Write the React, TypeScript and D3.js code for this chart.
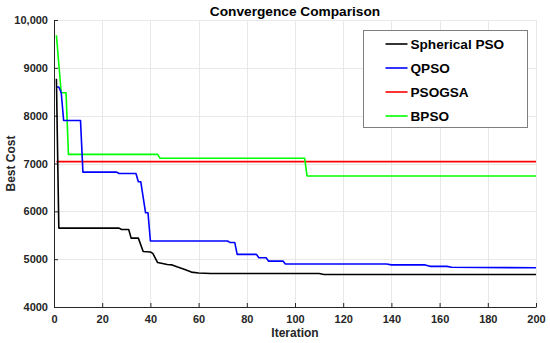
import React, { useEffect, useRef } from "react";
import * as d3 from "d3";

// Convergence histories (iteration, best cost)
const sphericalIter = [1, 2, 27, 28, 31, 32, 35, 37, 40, 41, 43, 47, 49, 51, 54, 57, 60, 65, 110, 112, 200];
const sphericalCost = [8770, 5650, 5650, 5620, 5620, 5440, 5440, 5160, 5150, 5120, 4930, 4890, 4880, 4840, 4790, 4730, 4710, 4700, 4700, 4680, 4680];

const qpsoIter = [1, 2, 3, 4, 11, 12, 26, 27, 34, 35, 36, 38, 39, 40, 72, 73, 75, 76, 84, 85, 88, 89, 95, 96, 138, 140, 154, 156, 163, 165, 200];
const qpsoCost = [8600, 8600, 8480, 7900, 7900, 6820, 6820, 6790, 6790, 6620, 6620, 5970, 5970, 5380, 5380, 5350, 5350, 5100, 5100, 5030, 5030, 4960, 4960, 4900, 4900, 4880, 4880, 4850, 4850, 4830, 4820];

const psogsaIter = [1, 200];
const psogsaCost = [7040, 7040];

const bpsoIter = [1, 3, 5, 6, 43, 44, 104, 105, 200];
const bpsoCost = [9680, 8480, 8480, 7190, 7190, 7110, 7110, 6740, 6740];

const seriesNames = ["Spherical PSO", "QPSO", "PSOGSA", "BPSO"];
const seriesColors = ["#000000", "#0000ff", "#ff0000", "#00ff00"];

const xTicks = [0, 20, 40, 60, 80, 100, 120, 140, 160, 180, 200];
const yTicks = [4000, 5000, 6000, 7000, 8000, 9000, 10000];

export default function App() {
  const svgRef = useRef<SVGSVGElement>(null);

  useEffect(() => {
    const svg = d3.select(svgRef.current);
    svg.selectAll("*").remove();

    const width = 550;
    const height = 343;
    const margin = { top: 20, right: 14, bottom: 36, left: 54 };
    const font = "'Liberation Sans', Arial, sans-serif";

    const x = d3.scaleLinear().domain([0, 200]).range([margin.left, width - margin.right]);
    const y = d3.scaleLinear().domain([4000, 10000]).range([height - margin.bottom, margin.top]);

    svg.attr("width", width).attr("height", height);
    svg.append("rect").attr("width", width).attr("height", height).attr("fill", "#ffffff");

    // grid
    const grid = svg.append("g").attr("stroke", "#e8e8e8").attr("stroke-width", 1);
    grid.selectAll(".gx")
      .data(xTicks.slice(1))
      .enter()
      .append("line")
      .attr("x1", (d) => Math.round(x(d)) + 0.5)
      .attr("x2", (d) => Math.round(x(d)) + 0.5)
      .attr("y1", y(10000))
      .attr("y2", y(4000));
    grid.selectAll(".gy")
      .data(yTicks.slice(1))
      .enter()
      .append("line")
      .attr("x1", x(0))
      .attr("x2", x(200))
      .attr("y1", (d) => Math.round(y(d)) + 0.5)
      .attr("y2", (d) => Math.round(y(d)) + 0.5);

    // axes
    const xAxis = svg.append("g")
      .attr("transform", `translate(0,${y(4000)})`)
      .call(d3.axisBottom(x).tickValues(xTicks).tickSizeInner(-4).tickSizeOuter(0).tickPadding(8));
    const yAxis = svg.append("g")
      .attr("transform", `translate(${x(0)},0)`)
      .call(
        d3.axisLeft(y)
          .tickValues(yTicks)
          .tickSizeInner(-4)
          .tickSizeOuter(0)
          .tickPadding(6)
          .tickFormat((d) => ((d as number) >= 10000 ? d3.format(",")(d as number) : String(d)))
      );
    [xAxis, yAxis].forEach((a) => {
      a.select(".domain").attr("stroke", "#262626").attr("stroke-width", 1);
      a.selectAll(".tick line").attr("stroke", "#262626");
      a.selectAll(".tick text")
        .attr("fill", "#262626")
        .attr("font-family", font)
        .attr("font-weight", "bold")
        .attr("font-size", "11px");
    });

    // series
    const iters = [sphericalIter, qpsoIter, psogsaIter, bpsoIter];
    const costs = [sphericalCost, qpsoCost, psogsaCost, bpsoCost];
    const line = d3.line<[number, number]>().x((d) => x(d[0])).y((d) => y(d[1]));
    // draw order: PSOGSA, BPSO, QPSO, Spherical on top
    [2, 3, 1, 0].forEach((k) => {
      const pts = iters[k].map((it, i) => [it, costs[k][i]] as [number, number]);
      svg.append("path")
        .datum(pts)
        .attr("fill", "none")
        .attr("stroke", seriesColors[k])
        .attr("stroke-width", 1.6)
        .attr("stroke-linejoin", "round")
        .attr("d", line);
    });

    // title
    svg.append("text")
      .attr("x", (x(0) + x(200)) / 2)
      .attr("y", 16)
      .attr("text-anchor", "middle")
      .attr("font-family", font)
      .attr("font-weight", "bold")
      .attr("font-size", "13.7px")
      .attr("fill", "#000")
      .text("Convergence Comparison");

    // axis labels
    svg.append("text")
      .attr("x", (x(0) + x(200)) / 2)
      .attr("y", 337)
      .attr("text-anchor", "middle")
      .attr("font-family", font)
      .attr("font-weight", "bold")
      .attr("font-size", "12px")
      .attr("fill", "#262626")
      .text("Iteration");
    svg.append("text")
      .attr("transform", `translate(15,${(y(4000) + y(10000)) / 2}) rotate(-90)`)
      .attr("text-anchor", "middle")
      .attr("font-family", font)
      .attr("font-weight", "bold")
      .attr("font-size", "12px")
      .attr("fill", "#262626")
      .text("Best Cost");

    // legend
    const lg = svg.append("g").attr("transform", "translate(363.5,30.5)");
    lg.append("rect")
      .attr("width", 164)
      .attr("height", 97)
      .attr("fill", "#ffffff")
      .attr("stroke", "#7f7f7f")
      .attr("stroke-width", 1);
    seriesNames.forEach((name, i) => {
      const ly = 13.5 + i * 24;
      lg.append("line")
        .attr("x1", 22)
        .attr("x2", 44)
        .attr("y1", ly)
        .attr("y2", ly)
        .attr("stroke", seriesColors[i])
        .attr("stroke-width", 1.6);
      lg.append("text")
        .attr("x", 47)
        .attr("y", ly + 5)
        .attr("font-family", font)
        .attr("font-weight", "bold")
        .attr("font-size", "13.6px")
        .attr("fill", "#000")
        .text(name);
    });
  }, []);

  return <svg ref={svgRef} style={{ position: "absolute", left: 0, top: 0, display: "block" }} />;
}
